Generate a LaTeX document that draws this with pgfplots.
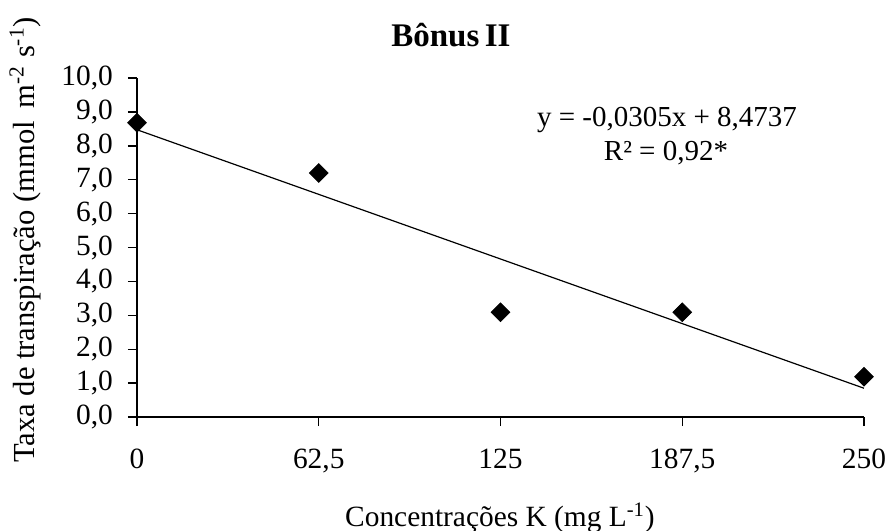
\documentclass[border=0pt]{standalone}
\usepackage{pgfplots}
\pgfplotsset{compat=1.18}
\usepackage{fontspec}
\setmainfont{Liberation Serif}
\begin{document}
\begin{tikzpicture}
\useasboundingbox (-68.5pt,-57pt) rectangle (377pt,208.5pt);
\begin{axis}[
  at={(0pt,0pt)}, anchor=south west,
  scale only axis, width=363.5pt, height=169.5pt,
  xmin=0, xmax=250, ymin=0, ymax=10,
  axis x line=bottom, axis y line=left,
  axis line style={-, line width=0.7pt, black},
  tick align=outside,
  tick style={line width=0.7pt, black},
  major tick length=4.5pt,
  xtick={0,62.5,125,187.5,250},
  xticklabels={0,{62,5},125,{187,5},250},
  ytick={0,1,2,3,4,5,6,7,8,9,10},
  yticklabel style={/pgf/number format/fixed, /pgf/number format/fixed zerofill, /pgf/number format/precision=1, /pgf/number format/use comma, /pgf/number format/assume math mode=true, xshift=-4pt},
  ticklabel style={font=\fontsize{14.7}{17}\selectfont},
  xticklabel style={yshift=-8pt},
  clip=false,
]
\addplot[black, line width=0.6pt, no marks] coordinates {(0,8.4737) (250,0.8487)};
\addplot[only marks, mark=square*, mark size=3.3pt, mark options={rotate=45, fill=black, draw=black}] coordinates {
(0,8.68) (62.5,7.2) (125,3.09) (187.5,3.09) (250,1.19)};
\end{axis}
\node[font=\bfseries\fontsize{16.5}{19}\selectfont] at (157pt,191pt) {Bônus\,II};
\node[font=\fontsize{14.5}{17}\selectfont] at (265pt,148.5pt) {y = -0,0305x + 8,4737};
\node[font=\fontsize{14.5}{17}\selectfont] at (264.5pt,132pt) {R² = 0,92*};
\node[font=\fontsize{14.7}{17}\selectfont] at (181.5pt,-50.5pt) {Concentrações K (mg L\textsuperscript{-1})};
\node[font=\fontsize{15.3}{18}\selectfont, rotate=90] at (-56pt,88.5pt) {Taxa de transpiração (mmol\, m\textsuperscript{-2} s\textsuperscript{-1})};
\end{tikzpicture}
\end{document}
